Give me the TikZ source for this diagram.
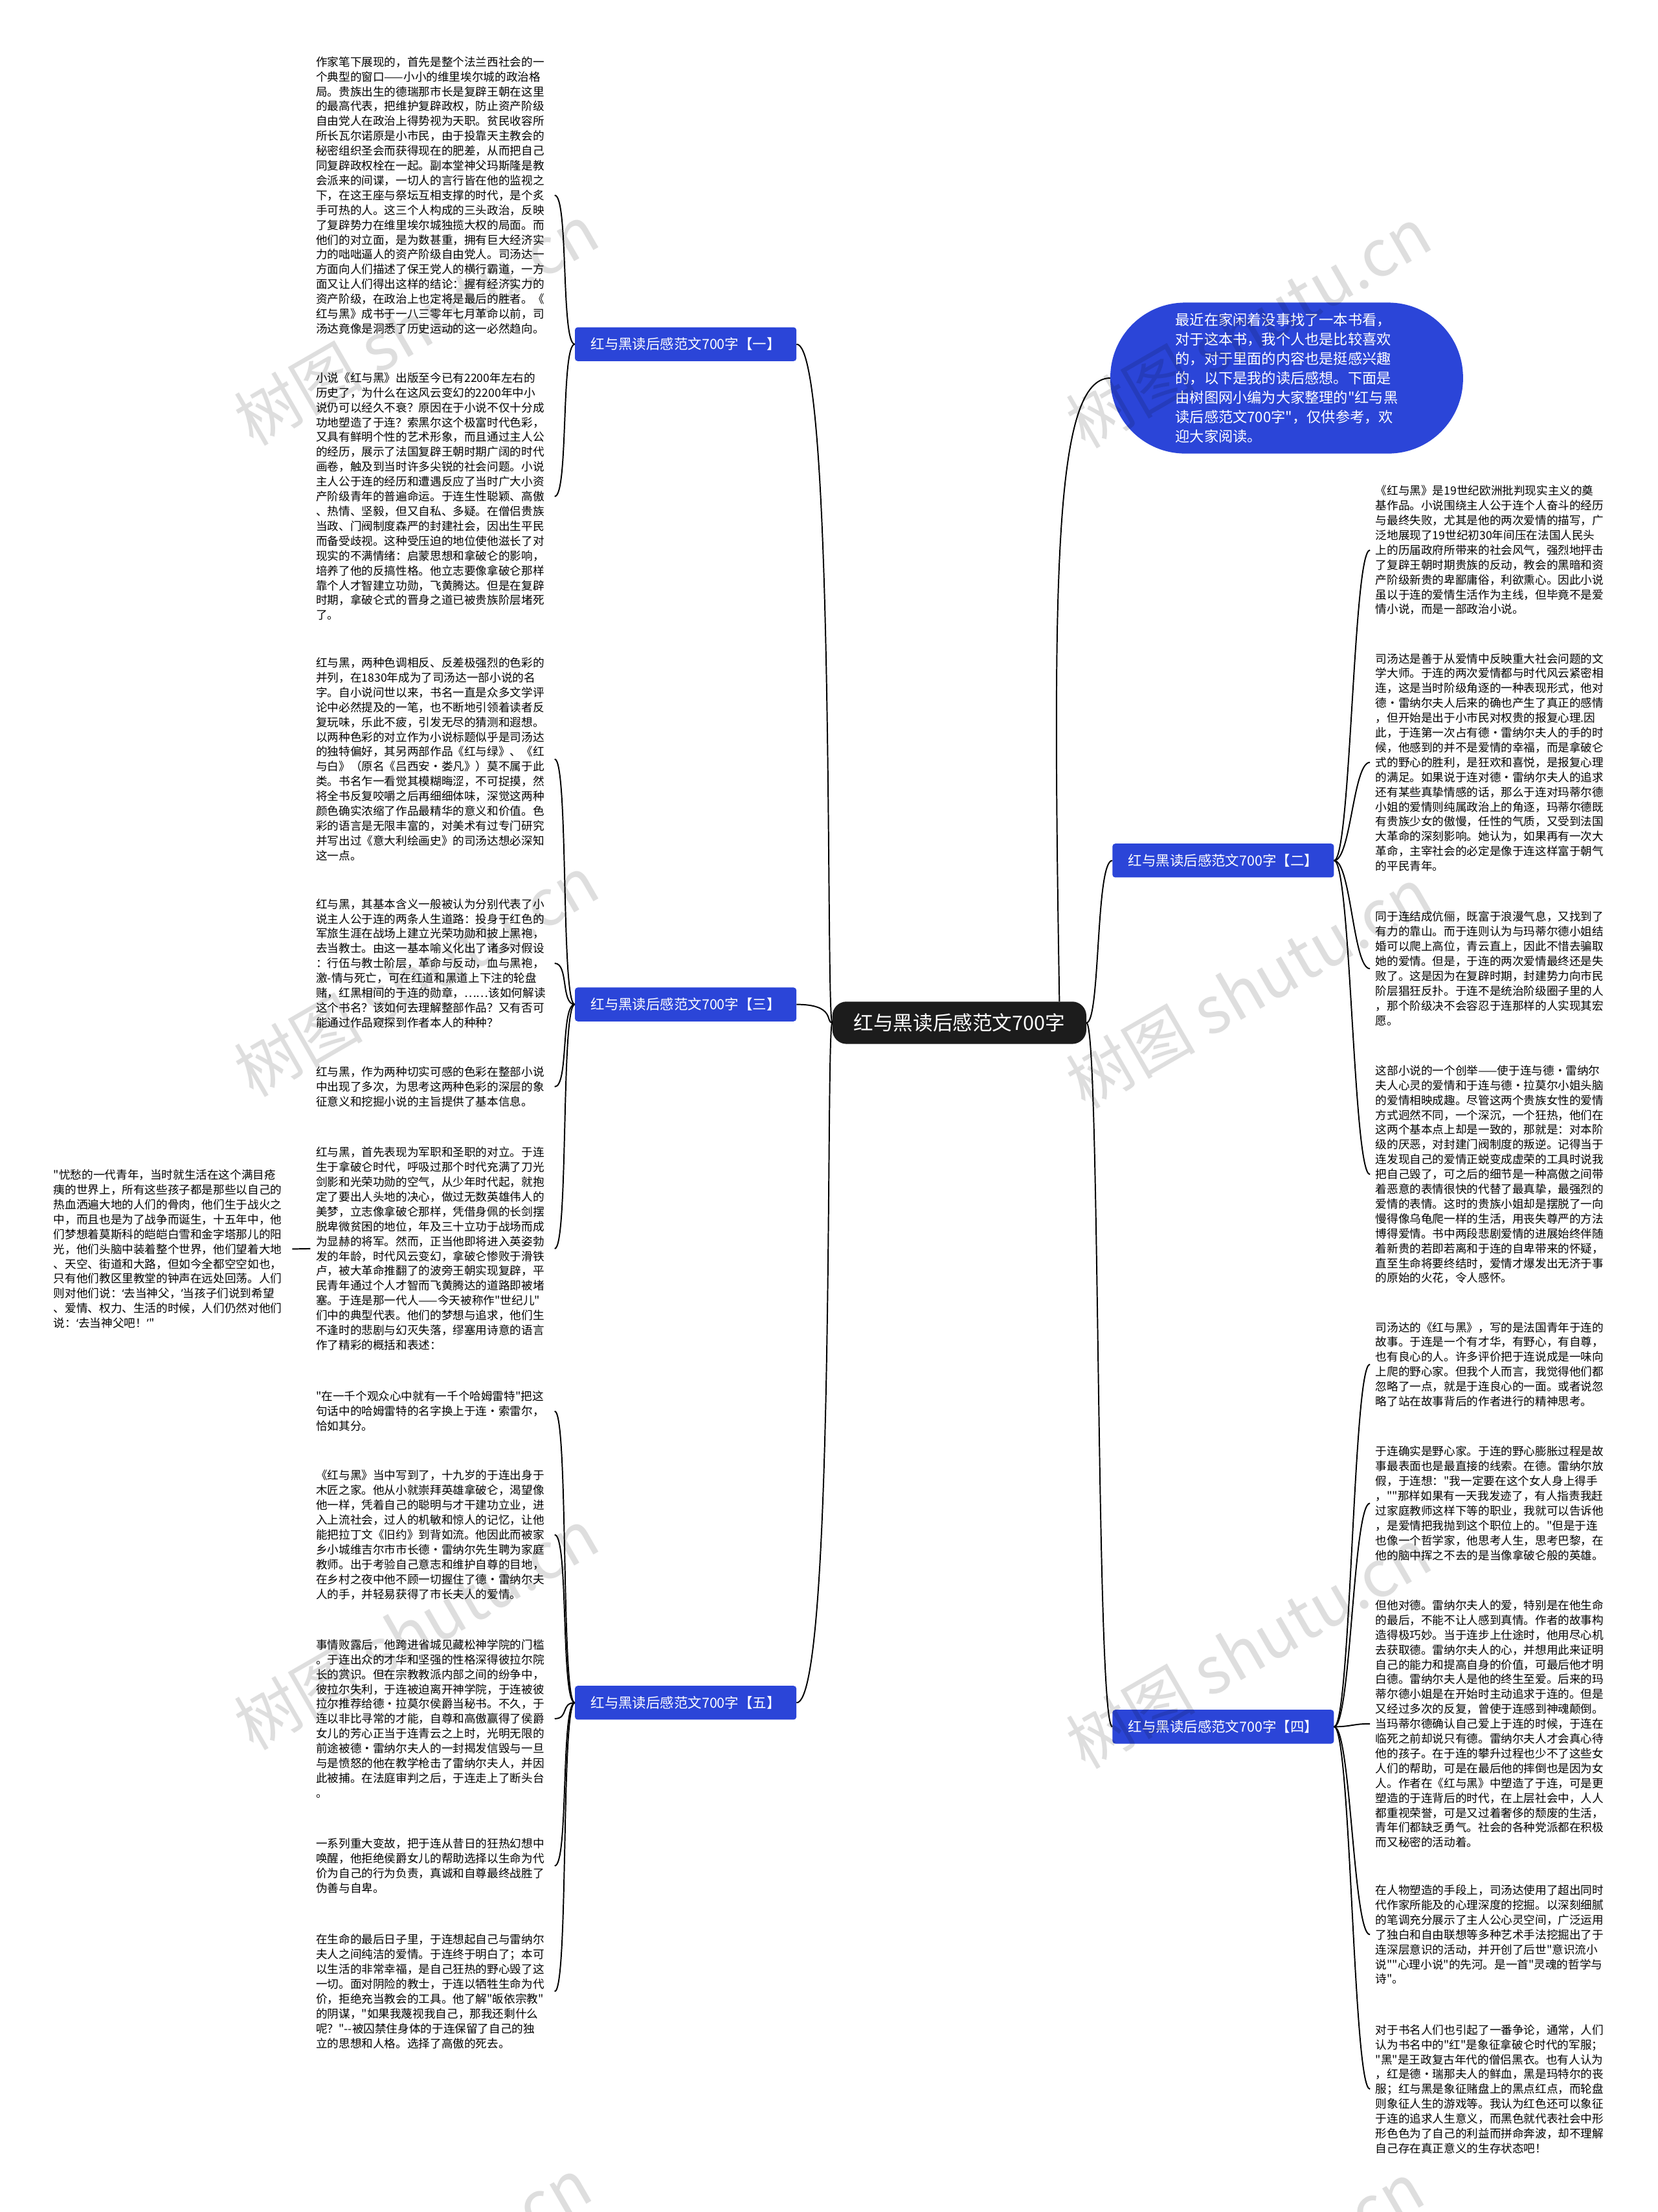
\documentclass[tikz,border=0pt]{standalone}
\usepackage{fontspec}
\setmainfont{Noto Sans CJK SC}[Ligatures=TeXOff]
\newfontfamily\latinq{Noto Sans}
\usepackage{xcolor}
\usepackage{tikz}
\definecolor{shublue}{HTML}{2B45D8}
\definecolor{rootblack}{HTML}{1C1C1C}
\setlength{\parindent}{0pt}
% narrow curly quotes
\newcommand{\qo}{{\latinq ‘}}
\newcommand{\qc}{{\latinq ’}}

\begin{document}
\begin{tikzpicture}[
    x=1mm, y=-1mm,
    every node/.style={font=\fontsize{23}{29.9}\selectfont},
    para/.style={
        anchor=north west, inner xsep=4mm, inner ysep=0pt,
        text width=165mm, align=left
    },
    root/.style={
        fill=rootblack, text=white, rounded corners=10mm,
        minimum width=180mm, minimum height=30mm,
        font=\fontsize{40}{48}\selectfont
    },
    branch/.style={
        fill=shublue, text=white, rounded corners=2mm,
        minimum width=157mm, minimum height=24mm,
        font=\fontsize{28}{34}\selectfont
    },
    intro/.style={
        fill=shublue, text=white, rounded corners=53mm,
        minimum width=250mm, minimum height=107mm, align=left,
        font=\fontsize{29}{39}\selectfont
    },
    link/.style={draw=black, line width=0.9mm},
    wmark/.style={
        rotate=30, text=black, text opacity=0.13,
        font=\fontsize{130}{130}\selectfont
    }
]
\useasboundingbox (0,0) rectangle (1175,1568);
\fill[white] (0,0) rectangle (1175,1568);

% --- Root, intro and branch labels
\node[root] (root) at (680,725) {红与黑读后感范文700字};
\node[intro] (intro) at (912,268) {最近在家闲着没事找了一本书看，\\
对于这本书，我个人也是比较喜欢\\
的，对于里面的内容也是挺感兴趣\\
的，以下是我的读后感想。下面是\\
由树图网小编为大家整理的"红与黑\\
读后感范文700字"，仅供参考，欢\\
迎大家阅读。};
\node[branch] (b1) at (486,244) {红与黑读后感范文700字【一】};
\node[branch] (b3) at (486,712) {红与黑读后感范文700字【三】};
\node[branch] (b5) at (486,1207) {红与黑读后感范文700字【五】};
\node[branch] (b2) at (867,610) {红与黑读后感范文700字【二】};
\node[branch] (b4) at (867,1224) {红与黑读后感范文700字【四】};

% --- Left side, branch one
\node[para] (t1) at (220,40) {作家笔下展现的，首先是整个法兰西社会的一\\
个典型的窗口——小小的维里埃尔城的政治格\\
局。贵族出生的德瑞那市长是复辟王朝在这里\\
的最高代表，把维护复辟政权，防止资产阶级\\
自由党人在政治上得势视为天职。贫民收容所\\
所长瓦尔诺原是小市民，由于投靠天主教会的\\
秘密组织圣会而获得现在的肥差，从而把自己\\
同复辟政权栓在一起。副本堂神父玛斯隆是教\\
会派来的间谍，一切人的言行皆在他的监视之\\
下，在这王座与祭坛互相支撑的时代，是个炙\\
手可热的人。这三个人构成的三头政治，反映\\
了复辟势力在维里埃尔城独揽大权的局面。而\\
他们的对立面，是为数甚重，拥有巨大经济实\\
力的咄咄逼人的资产阶级自由党人。司汤达一\\
方面向人们描述了保王党人的横行霸道，一方\\
面又让人们得出这样的结论：握有经济实力的\\
资产阶级，在政治上也定将是最后的胜者。《\\
红与黑》成书于一八三零年七月革命以前，司\\
汤达竟像是洞悉了历史运动的这一必然趋向。};
\node[para] (t2) at (220,264) {小说《红与黑》出版至今已有2200年左右的\\
历史了，为什么在这风云变幻的2200年中小\\
说仍可以经久不衰？原因在于小说不仅十分成\\
功地塑造了于连？索黑尔这个极富时代色彩，\\
又具有鲜明个性的艺术形象，而且通过主人公\\
的经历，展示了法国复辟王朝时期广阔的时代\\
画卷，触及到当时许多尖锐的社会问题。小说\\
主人公于连的经历和遭遇反应了当时广大小资\\
产阶级青年的普遍命运。于连生性聪颖、高傲\\
、热情、坚毅，但又自私、多疑。在僧侣贵族\\
当政、门阀制度森严的封建社会，因出生平民\\
而备受歧视。这种受压迫的地位使他滋长了对\\
现实的不满情绪：启蒙思想和拿破仑的影响，\\
培养了他的反搞性格。他立志要像拿破仑那样\\
靠个人才智建立功勋，飞黄腾达。但是在复辟\\
时期，拿破仑式的晋身之道已被贵族阶层堵死\\
了。};

% --- Left side, branch three
\node[para] (t3) at (220,466) {红与黑，两种色调相反、反差极强烈的色彩的\\
并列，在1830年成为了司汤达一部小说的名\\
字。自小说问世以来，书名一直是众多文学评\\
论中必然提及的一笔，也不断地引领着读者反\\
复玩味，乐此不疲，引发无尽的猜测和遐想。\\
以两种色彩的对立作为小说标题似乎是司汤达\\
的独特偏好，其另两部作品《红与绿》、《红\\
与白》（原名《吕西安•娄凡》）莫不属于此\\
类。书名乍一看觉其模糊晦涩，不可捉摸，然\\
将全书反复咬嚼之后再细细体味，深觉这两种\\
颜色确实浓缩了作品最精华的意义和价值。色\\
彩的语言是无限丰富的，对美术有过专门研究\\
并写出过《意大利绘画史》的司汤达想必深知\\
这一点。};
\node[para] (t4) at (220,637) {红与黑，其基本含义一般被认为分别代表了小\\
说主人公于连的两条人生道路：投身于红色的\\
军旅生涯在战场上建立光荣功勋和披上黑袍，\\
去当教士。由这一基本喻义化出了诸多对假设\\
：行伍与教士阶层，革命与反动，血与黑袍，\\
激-情与死亡，可在红道和黑道上下注的轮盘\\
赌，红黑相间的于连的勋章，……该如何解读\\
这个书名？该如何去理解整部作品？又有否可\\
能通过作品窥探到作者本人的种种？};
\node[para] (t5) at (220,756) {红与黑，作为两种切实可感的色彩在整部小说\\
中出现了多次，为思考这两种色彩的深层的象\\
征意义和挖掘小说的主旨提供了基本信息。};
\node[para] (t6) at (220,813) {红与黑，首先表现为军职和圣职的对立。于连\\
生于拿破仑时代，呼吸过那个时代充满了刀光\\
剑影和光荣功勋的空气，从少年时代起，就抱\\
定了要出人头地的决心，做过无数英雄伟人的\\
美梦，立志像拿破仑那样，凭借身佩的长剑摆\\
脱卑微贫困的地位，年及三十立功于战场而成\\
为显赫的将军。然而，正当他即将进入英姿勃\\
发的年龄，时代风云变幻，拿破仑惨败于滑铁\\
卢，被大革命推翻了的波旁王朝实现复辟，平\\
民青年通过个人才智而飞黄腾达的道路即被堵\\
塞。于连是那一代人——今天被称作"世纪儿"\\
们中的典型代表。他们的梦想与追求，他们生\\
不逢时的悲剧与幻灭失落，缪塞用诗意的语言\\
作了精彩的概括和表述：};
\node[para] (fl) at (34,829) {"忧愁的一代青年，当时就生活在这个满目疮\\
痍的世界上，所有这些孩子都是那些以自己的\\
热血洒遍大地的人们的骨肉，他们生于战火之\\
中，而且也是为了战争而诞生，十五年中，他\\
们梦想着莫斯科的皑皑白雪和金字塔那儿的阳\\
光，他们头脑中装着整个世界，他们望着大地\\
、天空、街道和大路，但如今全都空空如也，\\
只有他们教区里教堂的钟声在远处回荡。人们\\
则对他们说：\qo 去当神父，\qc 当孩子们说到希望\\
、爱情、权力、生活的时候，人们仍然对他们\\
说：\qo 去当神父吧！\qc"};

% --- Left side, branch five
\node[para] (t7) at (220,986) {"在一千个观众心中就有一千个哈姆雷特"把这\\
句话中的哈姆雷特的名字换上于连·索雷尔，\\
恰如其分。};
\node[para] (t8) at (220,1042) {《红与黑》当中写到了，十九岁的于连出身于\\
木匠之家。他从小就崇拜英雄拿破仑，渴望像\\
他一样，凭着自己的聪明与才干建功立业，进\\
入上流社会，过人的机敏和惊人的记忆，让他\\
能把拉丁文《旧约》到背如流。他因此而被家\\
乡小城维吉尔市市长德·雷纳尔先生聘为家庭\\
教师。出于考验自己意志和维护自尊的目地，\\
在乡村之夜中他不顾一切握住了德·雷纳尔夫\\
人的手，并轻易获得了市长夫人的爱情。};
\node[para] (t9) at (220,1162) {事情败露后，他跨进省城见藏松神学院的门槛\\
。于连出众的才华和坚强的性格深得彼拉尔院\\
长的赏识。但在宗教教派内部之间的纷争中，\\
彼拉尔失利，于连被迫离开神学院，于连被彼\\
拉尔推荐给德·拉莫尔侯爵当秘书。不久，于\\
连以非比寻常的才能，自尊和高傲赢得了侯爵\\
女儿的芳心正当于连青云之上时，光明无限的\\
前途被德·雷纳尔夫人的一封揭发信毁与一旦\\
与是愤怒的他在教学枪击了雷纳尔夫人，并因\\
此被捕。在法庭审判之后，于连走上了断头台\\
。};
\node[para] (t10) at (220,1303) {一系列重大变故，把于连从昔日的狂热幻想中\\
唤醒，他拒绝侯爵女儿的帮助选择以生命为代\\
价为自己的行为负责，真诚和自尊最终战胜了\\
伪善与自卑。};
\node[para] (t11) at (220,1371) {在生命的最后日子里，于连想起自己与雷纳尔\\
夫人之间纯洁的爱情。于连终于明白了；本可\\
以生活的非常幸福，是自己狂热的野心毁了这\\
一切。面对阴险的教士，于连以牺牲生命为代\\
价，拒绝充当教会的工具。他了解"皈依宗教"\\
的阴谋，"如果我蔑视我自己，那我还剩什么\\
呢？"--被囚禁住身体的于连保留了自己的独\\
立的思想和人格。选择了高傲的死去。};

% --- Right side, branch two
\node[para] (r1) at (971,344) {《红与黑》是19世纪欧洲批判现实主义的奠\\
基作品。小说围绕主人公于连个人奋斗的经历\\
与最终失败，尤其是他的两次爱情的描写，广\\
泛地展现了19世纪初30年间压在法国人民头\\
上的历届政府所带来的社会风气，强烈地抨击\\
了复辟王朝时期贵族的反动，教会的黑暗和资\\
产阶级新贵的卑鄙庸俗，利欲熏心。因此小说\\
虽以于连的爱情生活作为主线，但毕竟不是爱\\
情小说，而是一部政治小说。};
\node[para] (r2) at (971,463) {司汤达是善于从爱情中反映重大社会问题的文\\
学大师。于连的两次爱情都与时代风云紧密相\\
连，这是当时阶级角逐的一种表现形式，他对\\
德·雷纳尔夫人后来的确也产生了真正的感情\\
，但开始是出于小市民对权贵的报复心理.因\\
此，于连第一次占有德·雷纳尔夫人的手的时\\
候，他感到的并不是爱情的幸福，而是拿破仑\\
式的野心的胜利，是狂欢和喜悦，是报复心理\\
的满足。如果说于连对德·雷纳尔夫人的追求\\
还有某些真挚情感的话，那么于连对玛蒂尔德\\
小姐的爱情则纯属政治上的角逐，玛蒂尔德既\\
有贵族少女的傲慢，任性的气质，又受到法国\\
大革命的深刻影响。她认为，如果再有一次大\\
革命，主宰社会的必定是像于连这样富于朝气\\
的平民青年。};
\node[para] (r3) at (971,646) {同于连结成伉俪，既富于浪漫气息，又找到了\\
有力的靠山。而于连则认为与玛蒂尔德小姐结\\
婚可以爬上高位，青云直上，因此不惜去骗取\\
她的爱情。但是，于连的两次爱情最终还是失\\
败了。这是因为在复辟时期，封建势力向市民\\
阶层猖狂反扑。于连不是统治阶级圈子里的人\\
，那个阶级决不会容忍于连那样的人实现其宏\\
愿。};
\node[para] (r4) at (971,755) {这部小说的一个创举——使于连与德·雷纳尔\\
夫人心灵的爱情和于连与德·拉莫尔小姐头脑\\
的爱情相映成趣。尽管这两个贵族女性的爱情\\
方式迥然不同，一个深沉，一个狂热，他们在\\
这两个基本点上却是一致的，那就是：对本阶\\
级的厌恶，对封建门阀制度的叛逆。记得当于\\
连发现自己的爱情正蜕变成虚荣的工具时说我\\
把自己毁了，可之后的细节是一种高傲之间带\\
着恶意的表情很快的代替了最真挚，最强烈的\\
爱情的表情。这时的贵族小姐却是摆脱了一向\\
慢得像乌龟爬一样的生活，用丧失尊严的方法\\
博得爱情。书中两段悲剧爱情的进展始终伴随\\
着新贵的若即若离和于连的自卑带来的怀疑，\\
直至生命将要终结时，爱情才爆发出无济于事\\
的原始的火花，令人感怀。};

% --- Right side, branch four
\node[para] (r5) at (971,937) {司汤达的《红与黑》，写的是法国青年于连的\\
故事。于连是一个有才华，有野心，有自尊，\\
也有良心的人。许多评价把于连说成是一味向\\
上爬的野心家。但我个人而言，我觉得他们都\\
忽略了一点，就是于连良心的一面。或者说忽\\
略了站在故事背后的作者进行的精神思考。};
\node[para] (r6) at (971,1025) {于连确实是野心家。于连的野心膨胀过程是故\\
事最表面也是最直接的线索。在德。雷纳尔放\\
假，于连想："我一定要在这个女人身上得手\\
，""那样如果有一天我发迹了，有人指责我赶\\
过家庭教师这样下等的职业，我就可以告诉他\\
，是爱情把我抛到这个职位上的。"但是于连\\
也像一个哲学家，他思考人生，思考巴黎，在\\
他的脑中挥之不去的是当像拿破仑般的英雄。};
\node[para] (r7) at (971,1134) {但他对德。雷纳尔夫人的爱，特别是在他生命\\
的最后，不能不让人感到真情。作者的故事构\\
造得极巧妙。当于连步上仕途时，他用尽心机\\
去获取德。雷纳尔夫人的心，并想用此来证明\\
自己的能力和提高自身的价值，可最后他才明\\
白德。雷纳尔夫人是他的终生至爱。后来的玛\\
蒂尔德小姐是在开始时主动追求于连的。但是\\
又经过多次的反复，曾使于连感到神魂颠倒。\\
当玛蒂尔德确认自己爱上于连的时候，于连在\\
临死之前却说只有德。雷纳尔夫人才会真心待\\
他的孩子。在于连的攀升过程也少不了这些女\\
人们的帮助，可是在最后他的摔倒也是因为女\\
人。作者在《红与黑》中塑造了于连，可是更\\
塑造的于连背后的时代，在上层社会中，人人\\
都重视荣誉，可是又过着奢侈的颓废的生活，\\
青年们都缺乏勇气。社会的各种党派都在积极\\
而又秘密的活动着。};
\node[para] (r8) at (971,1336) {在人物塑造的手段上，司汤达使用了超出同时\\
代作家所能及的心理深度的挖掘。以深刻细腻\\
的笔调充分展示了主人公心灵空间，广泛运用\\
了独白和自由联想等多种艺术手法挖掘出了于\\
连深层意识的活动，并开创了后世"意识流小\\
说""心理小说"的先河。是一首"灵魂的哲学与\\
诗"。};
\node[para] (r9) at (971,1435) {对于书名人们也引起了一番争论，通常，人们\\
认为书名中的"红"是象征拿破仑时代的军服；\\
"黑"是王政复古年代的僧侣黑衣。也有人认为\\
，红是德·瑞那夫人的鲜血，黑是玛特尔的丧\\
服；红与黑是象征赌盘上的黑点红点，而轮盘\\
则象征人生的游戏等。我认为红色还可以象征\\
于连的追求人生意义，而黑色就代表社会中形\\
形色色为了自己的利益而拼命奔波，却不理解\\
自己存在真正意义的生存状态吧！};

% --- Connectors
\foreach \b in {b1,b3,b5}
  \draw[link] (root.west) .. controls +(-5,0) and +(28,0) .. (\b.east);
\foreach \b in {b2,b4}
  \draw[link] (root.east) .. controls +(10,0) and +(-12,0) .. (\b.west);
\draw[link] (root.12) .. controls +(-5,-300) and +(-40,0) .. (intro.west);

\foreach \t in {t1,t2}
  \draw[link] (b1.west) .. controls +(-10,0) and +(10,0) .. (\t.east);
\foreach \t in {t3,t4,t5,t6}
  \draw[link] (b3.west) .. controls +(-10,0) and +(10,0) .. (\t.east);
\foreach \t in {t7,t8,t9,t10,t11}
  \draw[link] (b5.west) .. controls +(-10,0) and +(10,0) .. (\t.east);
\draw[link] (t6.west) -- (fl.east);

\foreach \t in {r1,r2,r3,r4}
  \draw[link] (b2.east) .. controls +(12,0) and +(-12,0) .. (\t.west);
\foreach \t in {r5,r6,r7,r8,r9}
  \draw[link] (b4.east) .. controls +(12,0) and +(-12,0) .. (\t.west);

% Watermark
\foreach \x/\y in {295/230, 885/232, 295/692, 885/700,
                   295/1155, 885/1168, 290/1615, 880/1618}
  \node[wmark] (wm-\x-\y) at (\x,\y) {树图 shutu.cn};
\end{tikzpicture}
\end{document}
